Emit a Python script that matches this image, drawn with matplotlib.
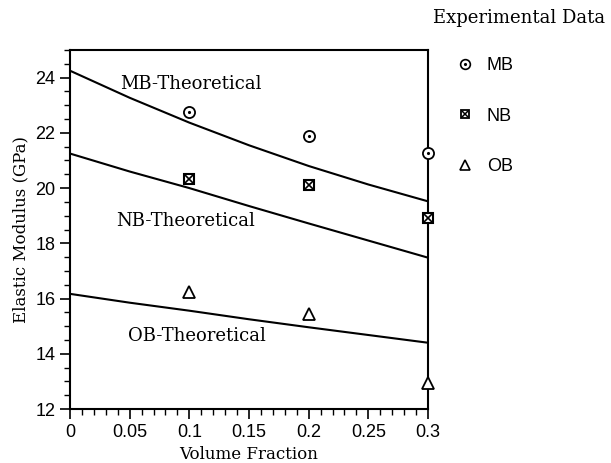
import matplotlib
matplotlib.use("Agg")
import matplotlib.pyplot as plt
from matplotlib.ticker import MultipleLocator
from matplotlib.lines import Line2D

# experimental points
vf_exp = [0.1, 0.2, 0.3]
mb_exp = [22.75, 21.88, 21.27]
nb_exp = [20.32, 20.12, 18.9]
ob_exp = [16.25, 15.45, 12.95]

# theoretical curves
vf_th = [0.0, 0.05, 0.1, 0.15, 0.2, 0.25, 0.3]
mb_th = [24.25, 23.27, 22.37, 21.55, 20.8, 20.13, 19.52]
nb_th = [21.25, 20.6, 20.0, 19.35, 18.72, 18.1, 17.48]
ob_th = [16.17, 15.85, 15.56, 15.25, 14.96, 14.68, 14.4]

serif = "DejaVu Serif"
sans = "Liberation Sans"

fig = plt.figure(figsize=(6.11, 4.63), dpi=100)
ax = fig.add_axes([0.1146, 0.1166, 0.5859, 0.7754])

for y in (mb_th, nb_th, ob_th):
    ax.plot(vf_th, y, color="black", lw=1.5)

ax.plot(vf_exp, mb_exp, "o", mfc="white", mec="black", ms=8, mew=1.3, clip_on=False, zorder=5)
ax.plot(vf_exp, mb_exp, ".", color="black", ms=2.5, clip_on=False, zorder=6)
ax.plot(vf_exp, nb_exp, "s", mfc="white", mec="black", ms=7, mew=1.5, clip_on=False, zorder=5)
ax.plot(vf_exp, nb_exp, "x", color="black", ms=6, mew=1.2, clip_on=False, zorder=6)
ax.plot(vf_exp, ob_exp, "^", mfc="white", mec="black", ms=8, mew=1.3, clip_on=False, zorder=5)

ax.text(0.1015, 23.78, "MB-Theoretical", fontsize=13, family=serif, ha="center", va="center")
ax.text(0.097, 18.8, "NB-Theoretical", fontsize=13, family=serif, ha="center", va="center")
ax.text(0.106, 14.65, "OB-Theoretical", fontsize=13, family=serif, ha="center", va="center")

ax.set_xlim(0, 0.3)
ax.set_ylim(12, 25)
ax.set_xticks([0, 0.05, 0.1, 0.15, 0.2, 0.25, 0.3])
ax.set_xticklabels(["0", "0.05", "0.1", "0.15", "0.2", "0.25", "0.3"])
ax.set_yticks([12, 14, 16, 18, 20, 22, 24])
ax.xaxis.set_minor_locator(MultipleLocator(0.01))
ax.yaxis.set_minor_locator(MultipleLocator(0.5))
ax.tick_params(which="major", direction="out", length=7, width=1.2, labelsize=13)
ax.tick_params(which="minor", direction="out", length=4, width=1)
for lab in ax.get_xticklabels() + ax.get_yticklabels():
    lab.set_family(sans)
for s in ax.spines.values():
    s.set_linewidth(1.5)

ax.set_xlabel("Volume Fraction", fontsize=12, family=serif, labelpad=4)
ax.set_ylabel("Elastic Modulus (GPa)", fontsize=12, family=serif, labelpad=4)

# legend block on the right
fig.text(433 / 611, 1 - 18 / 463, "Experimental Data", fontsize=13, family=serif, ha="left", va="center")
handles = [
    (Line2D([], [], ls="none", marker="o", mfc="white", mec="black", ms=7, mew=1.2),
     Line2D([], [], ls="none", marker=".", color="black", ms=2.5)),
    (Line2D([], [], ls="none", marker="s", mfc="white", mec="black", ms=6, mew=1.3),
     Line2D([], [], ls="none", marker="x", color="black", ms=5, mew=1.1)),
    Line2D([], [], ls="none", marker="^", mfc="white", mec="black", ms=7, mew=1.2),
]
leg = fig.legend(handles, ["MB", "NB", "OB"], loc="upper left",
                 bbox_to_anchor=(440 / 611, 1 - 41 / 463), frameon=False,
                 prop={"family": sans, "size": 13}, labelspacing=1.85,
                 handlelength=1.0, handletextpad=0.7)

fig.savefig("out.png", dpi=100)
